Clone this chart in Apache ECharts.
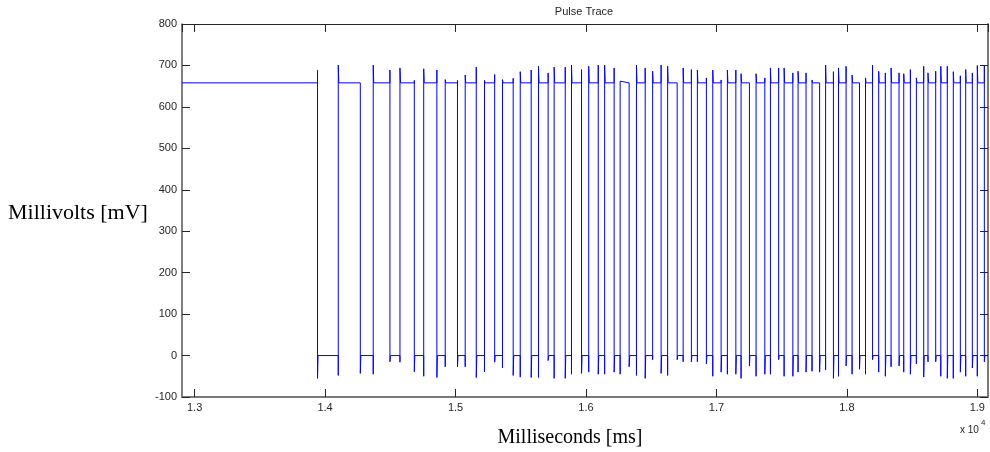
<!DOCTYPE html>
<html>
<head>
<meta charset="utf-8">
<script src="https://cdn.jsdelivr.net/npm/echarts@6/dist/echarts.min.js"></script>
<style>
html,body{margin:0;padding:0;background:#fff;}
#chart{width:990px;height:452px;}
</style>
</head>
<body>
<div id="chart"></div>
<script>
// ---- data ----
const titleText = 'Pulse Trace';
const xAxisTitle = 'Milliseconds [ms]';
const yAxisTitle = 'Millivolts [mV]';
const startTime = 12903;
const endTime = 19082;
const highLevel = 658;
const lowLevel = 0;
// edge times (ms); edges alternate: falling, rising, falling, ...
const edgeTimes = [
  13942, 14101, 14270, 14369, 14497, 14574, 14684, 14756, 14857, 14921,
  15015, 15074, 15159, 15222, 15300, 15360, 15442, 15496, 15580, 15636,
  15710, 15756, 15841, 15889, 15966, 16021, 16094, 16143, 16216, 16262,
  16331, 16387, 16454, 16511, 16576, 16626, 16699, 16745, 16808, 16854,
  16923, 16972, 17036, 17084, 17149, 17189, 17253, 17304, 17371, 17414,
  17477, 17519, 17586, 17626, 17687, 17733, 17791, 17837, 17897, 17936,
  17994, 18040, 18097, 18143, 18197, 18244, 18295, 18339, 18400, 18436,
  18487, 18533, 18589, 18622, 18681, 18720, 18770, 18816, 18870, 18911,
  18962, 19000, 19054
];
// highest value reached at each edge (overshoot)
const edgePeaks = [
  688, 701, 658, 701, 689, 694, 664, 692, 689, 666,
  664, 677, 696, 664, 678, 666, 669, 685, 689, 698,
  682, 696, 696, 701, 690, 698, 701, 701, 694, 662,
  662, 701, 694, 686, 701, 698, 660, 694, 690, 689,
  670, 689, 665, 689, 689, 680, 660, 680, 670, 694,
  694, 694, 682, 686, 682, 665, 662, 701, 685, 694,
  698, 677, 662, 670, 701, 686, 682, 694, 682, 680,
  690, 670, 698, 682, 686, 698, 698, 685, 675, 690,
  682, 700, 700
];
// lowest value reached at each edge (undershoot)
const edgeTroughs = [
  -55, -48, -43, -45, -15, -16, -39, -50, -53, -27,
  -27, -27, -53, -39, -16, -30, -48, -52, -53, -53,
  -12, -55, -55, -45, -43, -40, -45, -45, -40, -45,
  -27, -48, -55, -10, -43, -48, -10, -15, -15, -15,
  -20, -50, -40, -45, -45, -55, -25, -50, -45, -45,
  -10, -50, -50, -40, -40, -38, -40, -35, -55, -50,
  -25, -45, -33, -45, -10, -40, -50, -27, -25, -40,
  -45, -20, -52, -15, -15, -50, -55, -55, -40, -50,
  -30, -50, -15
];
const yMin = -100, yMax = 800, yStep = 100;

// ---- build the trace from the edge list ----
const edgeWidth = 4;
const trace = [[startTime, highLevel]];
edgeTimes.forEach(function (t, i) {
  if (i % 2 === 0) {
    trace.push([t, highLevel], [t, edgePeaks[i]], [t, edgeTroughs[i]], [t + edgeWidth, lowLevel]);
  } else {
    trace.push([t, lowLevel], [t, edgeTroughs[i]], [t, edgePeaks[i]], [t + edgeWidth, highLevel]);
  }
});
trace.push([endTime, edgeTimes.length % 2 ? lowLevel : highLevel]);

const chart = echarts.init(document.getElementById('chart'), null, {renderer: 'canvas'});
const labelFont = 'Liberation Sans, Arial, sans-serif';
const serif = 'Liberation Serif, Times New Roman, serif';
const axisCol = '#262626';

const option = {
  animation: false,
  backgroundColor: '#ffffff',
  grid: {left: 182, right: 2, top: 24, bottom: 55, containLabel: false},
  xAxis: [{
    type: 'value', min: startTime, max: endTime, minInterval: 1000, maxInterval: 1000,
    position: 'bottom',
    axisLine: {show: true, onZero: false, lineStyle: {color: '#7a7a7a', width: 2}},
    axisTick: {show: true, inside: true, length: 8, lineStyle: {color: axisCol, width: 1}},
    splitLine: {show: false},
    axisLabel: {show: true, showMinLabel: false, showMaxLabel: false, margin: 5,
      color: axisCol, fontSize: 11, fontFamily: labelFont,
      formatter: function (v) { return (v / 10000).toFixed(1); }}
  }, {
    type: 'value', min: startTime, max: endTime, minInterval: 1000, maxInterval: 1000,
    position: 'top',
    axisLine: {show: true, onZero: false, lineStyle: {color: axisCol, width: 1}},
    axisTick: {show: true, inside: true, length: 8, lineStyle: {color: axisCol, width: 1}},
    splitLine: {show: false},
    axisLabel: {show: false}
  }],
  yAxis: [{
    type: 'value', min: yMin, max: yMax, interval: yStep,
    position: 'left',
    axisLine: {show: true, onZero: false, lineStyle: {color: '#555555', width: 1.5}},
    axisTick: {show: true, inside: true, length: 8, lineStyle: {color: axisCol, width: 1}},
    splitLine: {show: false},
    axisLabel: {show: true, margin: 5, color: axisCol, fontSize: 11, fontFamily: labelFont}
  }, {
    type: 'value', min: yMin, max: yMax, interval: yStep,
    position: 'right',
    axisLine: {show: true, onZero: false, lineStyle: {color: '#7a7a7a', width: 2}},
    axisTick: {show: true, inside: true, length: 8, lineStyle: {color: axisCol, width: 1}},
    splitLine: {show: false},
    axisLabel: {show: false}
  }],
  series: [{
    type: 'line', xAxisIndex: 0, yAxisIndex: 0,
    data: trace, showSymbol: false, symbol: 'none',
    sampling: false, clip: true,
    lineStyle: {color: '#0000ff', width: 1},
    emphasis: {disabled: true}
  }],
  graphic: [
    {type: 'text', z: 10,
      style: {text: titleText, x: 584, y: 12, fill: axisCol, font: '11px ' + labelFont, textAlign: 'center', textVerticalAlign: 'middle'}},
    {type: 'text', z: 10,
      style: {text: yAxisTitle, x: 8, y: 213, fill: '#000', font: '22px ' + serif, textAlign: 'left', textVerticalAlign: 'middle'}},
    {type: 'text', z: 10,
      style: {text: xAxisTitle, x: 570, y: 438, fill: '#000', font: '20px ' + serif, textAlign: 'center', textVerticalAlign: 'middle'}},
    {type: 'text', z: 10,
      style: {text: 'x 10', x: 960, y: 430, fill: axisCol, font: '10px ' + labelFont, textAlign: 'left', textVerticalAlign: 'middle'}},
    {type: 'text', z: 10,
      style: {text: '4', x: 981, y: 423, fill: axisCol, font: '8px ' + labelFont, textAlign: 'left', textVerticalAlign: 'middle'}}
  ]
};
chart.setOption(option);
</script>
</body>
</html>
